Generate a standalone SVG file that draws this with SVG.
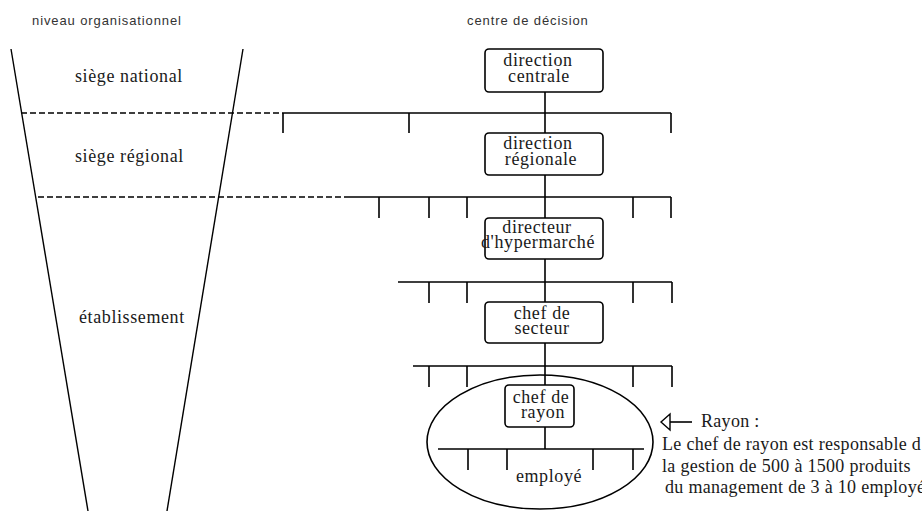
<svg xmlns="http://www.w3.org/2000/svg" width="922" height="511" viewBox="0 0 922 511">
<style>
.hdr{font-family:"Liberation Sans",Arial,sans-serif;font-size:13px;letter-spacing:0.9px;fill:#333}
.t{font-family:"Liberation Serif","Times New Roman",serif;font-size:18px;letter-spacing:0.6px;fill:#1a1a1a}
.n{letter-spacing:0.3px}
.c{text-anchor:middle}
.box{fill:#fff;stroke:#000;stroke-width:1.6}
.ln{stroke:#000;stroke-width:1.6;fill:none}
.fn{stroke:#000;stroke-width:1.4;fill:none}
.dash{stroke:#000;stroke-width:1.4;stroke-dasharray:6,3;fill:none}
</style>
<rect width="922" height="511" fill="#fff"/>
<text class="hdr" x="32" y="25">niveau organisationnel</text>
<text class="hdr" x="467" y="25">centre de décision</text>
<g id="funnel">
<line class="fn" x1="11" y1="49" x2="88" y2="511"/>
<line class="fn" x1="243" y1="49" x2="167" y2="511"/>
<line class="dash" x1="21" y1="113" x2="283" y2="113"/>
<line class="dash" x1="38" y1="197" x2="350" y2="197"/>
<text class="t" x="75" y="82">siège national</text>
<text class="t" x="75" y="162">siège régional</text>
<text class="t" x="79" y="323">établissement</text>
</g>
<g id="connectors">
<path class="ln" d="M545 92V133M545 175V218M545 259V302M545 343V385M545 427V449"/>
<path class="ln" d="M283 113H671M283 113V133M409 113V133M671 113V133"/>
<path class="ln" d="M350 197H671M379 197V218M429 197V218M467 197V218M633 197V218M671 197V218"/>
<path class="ln" d="M398 282H672M429 282V303M467 282V303M633 282V303M672 282V303"/>
<path class="ln" d="M413 366H672M429 366V387M467 366V387M633 366V387M672 366V387"/>
<path class="ln" d="M438 449H644M468 449V470M507 449V470M593 449V470M633 449V470"/>
</g>
<g id="rayon">
<ellipse class="ln" cx="540" cy="442" rx="113" ry="67"/>
</g>
<g id="n1"><rect class="box" x="485" y="49" width="118" height="43" rx="4"/><text class="t c" x="538" y="66">direction</text><text class="t c" x="539" y="82">centrale</text></g>
<g id="n2"><rect class="box" x="485" y="133" width="118" height="42" rx="4"/><text class="t c" x="538" y="149">direction</text><text class="t c" x="541" y="165">régionale</text></g>
<g id="n3"><rect class="box" x="485" y="218" width="118" height="41" rx="4"/><text class="t c" x="537" y="233">directeur</text><text class="t c" x="538" y="248">d'hypermarché</text></g>
<g id="n4"><rect class="box" x="485" y="302" width="118" height="41" rx="4"/><text class="t c" x="542" y="319">chef de</text><text class="t c" x="542" y="334">secteur</text></g>
<g id="n5"><rect class="box" x="505" y="385" width="69" height="42" rx="4"/><text class="t c" x="541" y="403">chef de</text><text class="t c" x="543" y="418">rayon</text></g>
<g id="n6"><text class="t c" x="549" y="482">employé</text></g>
<g id="note">
<line class="ln" x1="670" y1="422" x2="692" y2="422"/>
<polygon points="661,422 670,414 670,430" fill="#fff" stroke="#000" stroke-width="1.4"/>
<text class="t n" x="701" y="427">Rayon :</text>
<text class="t n" x="662" y="450">Le chef de rayon est responsable d</text>
<text class="t n" x="662" y="472">la gestion de 500 à 1500 produits</text>
<text class="t n" x="665" y="493">du management de 3 à 10 employé</text>
</g>
</svg>
